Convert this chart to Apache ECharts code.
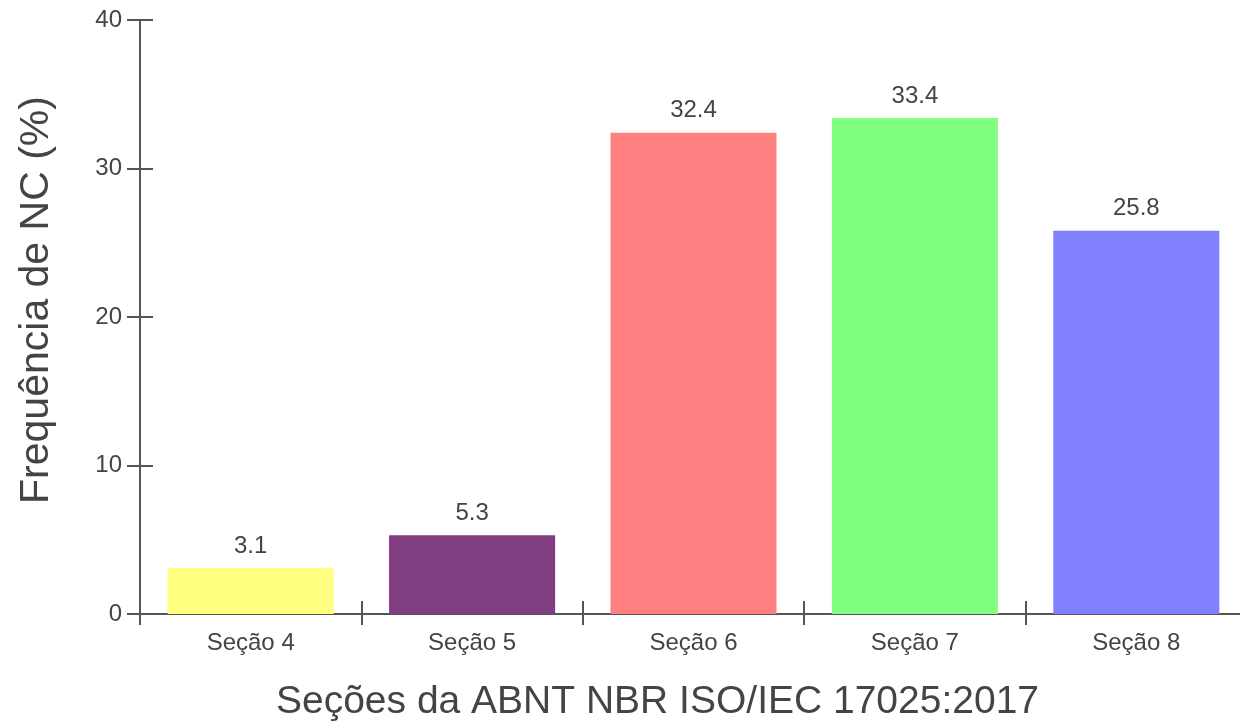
<!DOCTYPE html>
<html>
<head>
<meta charset="utf-8">
<script src="https://cdn.jsdelivr.net/npm/echarts@6/dist/echarts.min.js"></script>
<style>
  html, body { margin: 0; padding: 0; background: #fff; }
  #main { width: 1240px; height: 724px; }
</style>
</head>
<body>
<div id="main"></div>
<script>
var categories = ['Seção 4', 'Seção 5', 'Seção 6', 'Seção 7', 'Seção 8'];
var values = [3.1, 5.3, 32.4, 33.4, 25.8];
var barColors = ['#ffff80', '#803e80', '#ff8080', '#80ff80', '#8080ff'];
var yTicks = [0, 10, 20, 30, 40];

var chartDom = document.getElementById('main');
var myChart = echarts.init(chartDom);
var font = 'Liberation Sans, Arial, sans-serif';
var axisColor = '#555';
var textColor = '#444';

var option = {
  animation: false,
  grid: { left: 140, top: 20, width: 1107, bottom: 110, outerBoundsMode: 'none', containLabel: false },
  xAxis: [
    {
      type: 'category',
      data: categories,
      name: 'Seções da ABNT NBR ISO/IEC 17025:2017',
      nameLocation: 'middle',
      nameGap: 69,
      nameTextStyle: { fontFamily: font, fontSize: 39, color: textColor, padding: [0, 72, 0, 0] },
      axisLine: { lineStyle: { color: axisColor, width: 2 } },
      axisTick: { show: true, inside: true, length: 13, lineStyle: { color: axisColor, width: 2 } },
      axisLabel: { fontFamily: font, fontSize: 24, color: textColor, margin: 17 }
    },
    {
      type: 'category',
      data: categories,
      position: 'bottom',
      axisLine: { show: false },
      axisTick: { show: true, length: 11, lineStyle: { color: axisColor, width: 2 } },
      axisLabel: { show: false }
    }
  ],
  yAxis: [
    {
      type: 'value',
      min: yTicks[0],
      max: yTicks[yTicks.length - 1],
      interval: 10,
      name: 'Frequência de NC (%)',
      nameLocation: 'middle',
      nameGap: 83,
      nameTextStyle: { fontFamily: font, fontSize: 41, color: textColor, padding: [0, 0, 0, 34] },
      splitLine: { show: false },
      axisLine: { show: true, lineStyle: { color: axisColor, width: 2 } },
      axisTick: { show: true, inside: true, length: 13, lineStyle: { color: axisColor, width: 2 } },
      axisLabel: { fontFamily: font, fontSize: 24, color: textColor, margin: 18 }
    },
    {
      type: 'value',
      position: 'left',
      min: yTicks[0],
      max: yTicks[yTicks.length - 1],
      interval: 10,
      splitLine: { show: false },
      axisLine: { show: false },
      axisTick: { show: true, length: 13, lineStyle: { color: axisColor, width: 2 } },
      axisLabel: { show: false }
    }
  ],
  series: [
    {
      type: 'bar',
      barWidth: '75%',
      data: values.map(function (v, i) {
        return { value: v, itemStyle: { color: barColors[i] } };
      }),
      label: {
        show: true,
        position: 'top',
        distance: 10,
        fontFamily: font,
        fontSize: 24,
        color: textColor
      }
    }
  ]
};

option && myChart.setOption(option);
</script>
</body>
</html>
